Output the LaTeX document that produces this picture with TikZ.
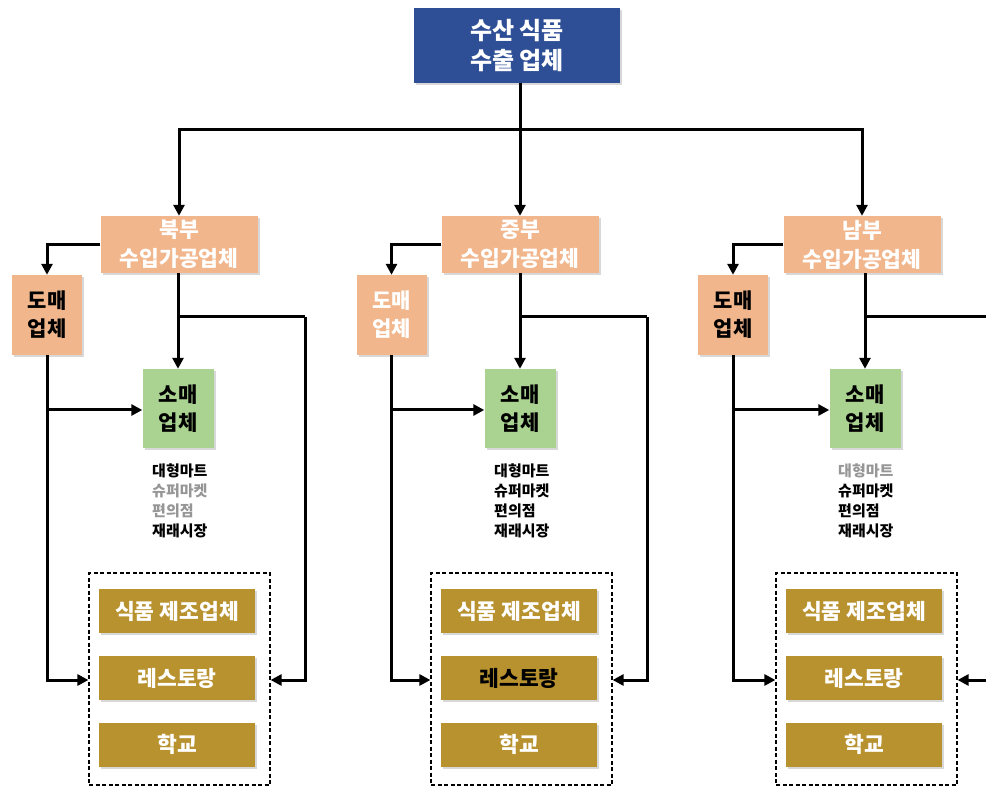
\documentclass[tikz,border=0pt]{standalone}
\usepackage{fontspec}
\setmainfont{Noto Sans CJK KR}
\usetikzlibrary{arrows.meta,shadows}
\definecolor{topblue}{RGB}{46,78,150}
\definecolor{peach}{RGB}{241,182,140}
\definecolor{leaf}{RGB}{170,210,144}
\definecolor{gold}{RGB}{185,146,48}
\definecolor{lgray}{RGB}{150,150,150}
\tikzset{
  boxbase/.style={inner sep=0pt, align=center, drop shadow={opacity=0.3, shadow xshift=2pt, shadow yshift=-2pt}},
  topbox/.style={boxbase, fill=topblue, text=white, minimum width=206pt, minimum height=75pt, font=\fontsize{24}{30}\selectfont\bfseries},
  regbox/.style={boxbase, fill=peach, text=white, minimum width=157pt, minimum height=57pt, font=\fontsize{21.5}{29}\selectfont\bfseries},
  wholebox/.style={boxbase, fill=peach, text=black, minimum width=70pt, minimum height=80pt, font=\fontsize{21}{28}\selectfont\bfseries},
  retailbox/.style={boxbase, fill=leaf, text=black, minimum width=71pt, minimum height=79pt, font=\fontsize{21}{28}\selectfont\bfseries},
  goldbox/.style={boxbase, fill=gold, text=white, minimum width=156pt, minimum height=44pt, font=\fontsize{21.5}{26}\selectfont\bfseries},
  groupbox/.style={draw, dash pattern=on 4pt off 2.5pt, line width=1.2pt, minimum width=181pt, minimum height=212pt, inner sep=0pt},
  listtext/.style={anchor=north west, inner sep=0pt, align=left, font=\fontsize{15}{20}\selectfont\bfseries},
  conn/.style={line width=3pt},
  arr/.style={conn, -{Triangle[length=11pt,width=11pt]}},
}
\begin{document}
\begin{tikzpicture}[x=1pt,y=-1pt]
\useasboundingbox (0,0) rectangle (986,786);
\fill[white] (0,0) rectangle (986,786);

% top
\node[topbox] (top) at (517,45.5) {수산 식품\\수출 업체};

% regional
\node[regbox] (rn) at (179,244.5) {북부\\수입가공업체};
\node[regbox] (rm) at (520,244.5) {중부\\수입가공업체};
\node[regbox] (rs) at (862,244.5) {남부\\수입가공업체};

% wholesale
\node[wholebox] (wn) at (47,315) {도매\\업체};
\node[wholebox, text=white] (wm) at (391.5,315) {도매\\업체};
\node[wholebox] (ws) at (733,315) {도매\\업체};

% retail
\node[retailbox] (sn) at (178,408.5) {소매\\업체};
\node[retailbox] (sm) at (520,408.5) {소매\\업체};
\node[retailbox] (ss) at (865,408.5) {소매\\업체};

% lists
\node[listtext] (ln) at (152,464) {대형마트\\\textcolor{lgray}{슈퍼마켓}\\\textcolor{lgray}{편의점}\\재래시장};
\node[listtext] (lm) at (494,464) {대형마트\\슈퍼마켓\\편의점\\재래시장};
\node[listtext] (ls) at (838,464) {\textcolor{lgray}{대형마트}\\슈퍼마켓\\편의점\\재래시장};

% groups
\node[groupbox] (gn) at (179.5,679) {};
\node[groupbox] (gm) at (521.5,679) {};
\node[groupbox] (gs) at (866.5,679) {};

\node[goldbox] (fn) at (177,611) {식품 제조업체};
\node[goldbox] (restn) at (177,678) {레스토랑};
\node[goldbox] (schn) at (177,744.5) {학교};
\node[goldbox] (fm) at (519,611) {식품 제조업체};
\node[goldbox, text=black] (restm) at (519,678) {레스토랑};
\node[goldbox] (schm) at (519,744.5) {학교};
\node[goldbox] (fs) at (864,611) {식품 제조업체};
\node[goldbox] (rests) at (864,678) {레스토랑};
\node[goldbox] (schs) at (864,744.5) {학교};

% top distribution
\coordinate (hub) at (520,130);
\draw[conn] (top.south -| hub) -- (hub);
\draw[arr] (hub) -| (rn.north);
\draw[arr] (hub) -- (rm.north);
\draw[arr] (hub) -| (rs.north);

% regional to wholesale
\draw[arr] (rn.west) -| (wn.north);
\draw[arr] (rm.west) -| (wm.north);
\draw[arr] (rs.west) -| (ws.north);

% regional to retail
\draw[arr] (rn.south -| sn) -- (sn.north);
\draw[arr] (rm.south -| sm) -- (sm.north);
\draw[arr] (rs.south -| ss) -- (ss.north);

% regional branch to right side of groups
\coordinate (bn) at (sn |- 0,317);
\coordinate (bm) at (sm |- 0,317);
\coordinate (bs) at (ss |- 0,317);
\coordinate (cn) at (305,317);
\coordinate (cm) at (647,317);
\coordinate (cs) at (986,317);
\coordinate (cs2) at (986,680);
\draw[conn] (bn) -- (cn);
\draw[arr] (cn) |- (gn.east |- 0,680);
\draw[conn] (bm) -- (cm);
\draw[arr] (cm) |- (gm.east |- 0,680);
\draw[conn] (bs) -- (cs);
\draw[arr] (cs2) -- (gs.east |- cs2);

% wholesale to retail and groups
\draw[arr] (wn.south) |- (gn.west |- 0,680);
\draw[arr] (wn.south |- 0,410) -- (sn.west |- 0,410);
\draw[arr] (wm.south) |- (gm.west |- 0,680);
\draw[arr] (wm.south |- 0,410) -- (sm.west |- 0,410);
\draw[arr] (ws.south) |- (gs.west |- 0,680);
\draw[arr] (ws.south |- 0,410) -- (ss.west |- 0,410);
\end{tikzpicture}
\end{document}
